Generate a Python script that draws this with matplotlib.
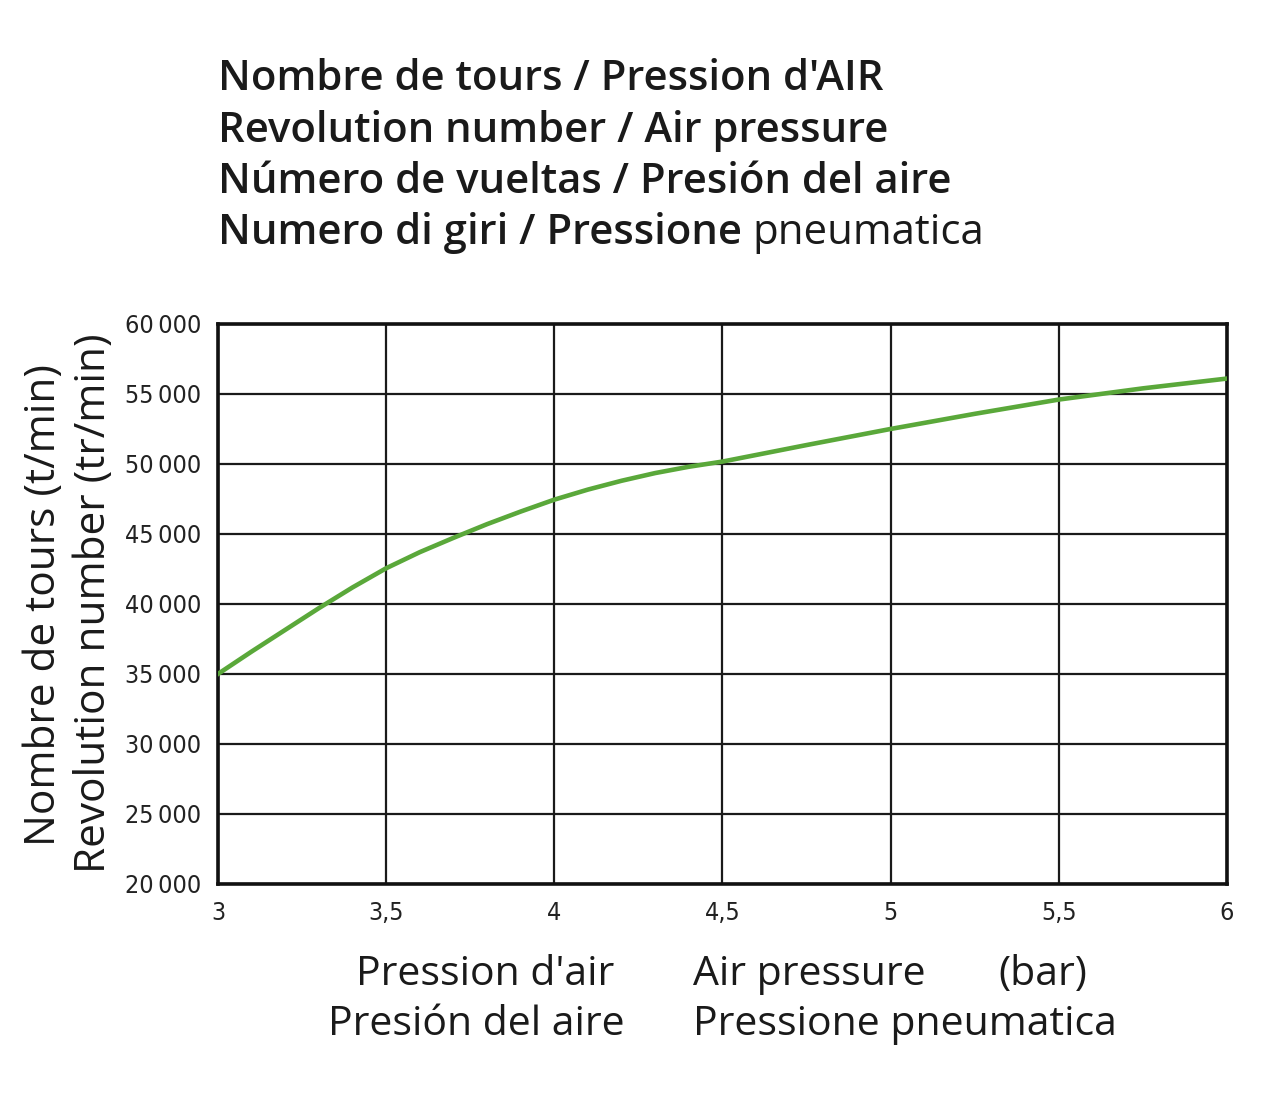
import matplotlib
matplotlib.use('Agg')
import matplotlib.pyplot as plt
from matplotlib.ticker import FixedLocator, FuncFormatter

# Data
pressure_bar = [3.0, 3.1, 3.2, 3.3, 3.4, 3.5, 3.6, 3.7, 3.8, 3.9, 4.0, 4.1, 4.2, 4.3, 4.4, 4.5,
                4.75, 5.0, 5.25, 5.5, 5.75, 6.0]
speed_rpm = [35000, 36600, 38150, 39700, 41180, 42550, 43700, 44720, 45700, 46600, 47450,
             48170, 48800, 49350, 49800, 50170, 51350, 52500, 53580, 54600, 55400, 56100]

x_ticks = [3, 3.5, 4, 4.5, 5, 5.5, 6]
y_ticks = [20000, 25000, 30000, 35000, 40000, 45000, 50000, 55000, 60000]

title_lines = ["Nombre de tours / Pression d'AIR",
               "Revolution number / Air pressure",
               "Número de vueltas / Presión del aire"]
title_last_bold = "Numero di giri / Pressione "
title_last_regular = "pneumatica"
ylabel_lines = ["Nombre de tours (t/min)", "Revolution number (tr/min)"]

TITLE_FONT = 'Open Sans'
LINE_GREEN = '#5aa83a'
INK = '#1a1a1a'

fig = plt.figure(figsize=(12.8, 11), dpi=100)
ax = fig.add_axes([0.1703, 0.1964, 0.7883, 0.5091])

ax.plot(pressure_bar, speed_rpm, color=LINE_GREEN, lw=3.3, solid_joinstyle='round', zorder=3)

ax.set_xlim(3, 6)
ax.set_ylim(20000, 60000)
ax.xaxis.set_major_locator(FixedLocator(x_ticks))
ax.yaxis.set_major_locator(FixedLocator(y_ticks))
ax.xaxis.set_major_formatter(FuncFormatter(lambda v, p: ('%g' % v).replace('.', ',')))
ax.yaxis.set_major_formatter(FuncFormatter(lambda v, p: '{:,}'.format(int(v)).replace(',', '\u2009')))
ax.grid(True, color=INK, lw=1.6, zorder=1)
ax.tick_params(axis='y', length=0, pad=12)
ax.tick_params(axis='x', length=0, pad=12)
for lab in ax.get_xticklabels() + ax.get_yticklabels():
    lab.set_family('DejaVu Sans')
    lab.set_stretch('condensed')
    lab.set_fontsize(18)
    lab.set_color('#222222')
for s in ax.spines.values():
    s.set_linewidth(2.6)
    s.set_color('#111111')

# Title block, top left
tx = 218 / 1280
base_y = [90, 142, 193]
for line, by in zip(title_lines, base_y):
    fig.text(tx, 1 - by / 1100, line, fontsize=30.2, fontweight='semibold',
             family=TITLE_FONT, color=INK, va='baseline', ha='left')
t_bold = fig.text(tx, 1 - 244 / 1100, title_last_bold, fontsize=30.2, fontweight='semibold',
                  family=TITLE_FONT, color=INK, va='baseline', ha='left')
fig.canvas.draw()
bb = t_bold.get_window_extent()
fig.text(bb.x1 / fig.bbox.width, 1 - 244 / 1100, title_last_regular, fontsize=30.2,
         family=TITLE_FONT, color=INK, va='baseline', ha='left')

# Y axis label (two rotated lines)
fig.text(44 / 1280, 1 - 605 / 1100, ylabel_lines[0], rotation=90, fontsize=30.5,
         family=TITLE_FONT, color=INK, ha='center', va='center')
fig.text(94 / 1280, 1 - 603 / 1100, ylabel_lines[1], rotation=90, fontsize=30.5,
         family=TITLE_FONT, color=INK, ha='center', va='center')

# X axis label block
fig.text(485 / 1280, 1 - 985 / 1100, "Pression d'air", fontsize=29.5, family=TITLE_FONT,
         color=INK, ha='center', va='baseline')
fig.text(476 / 1280, 1 - 1035 / 1100, "Presión del aire", fontsize=29.5, family=TITLE_FONT,
         color=INK, ha='center', va='baseline')
fig.text(693 / 1280, 1 - 985 / 1100, "Air pressure", fontsize=29.5, family=TITLE_FONT,
         color=INK, ha='left', va='baseline')
fig.text(693 / 1280, 1 - 1035 / 1100, "Pressione pneumatica", fontsize=29.5, family=TITLE_FONT,
         color=INK, ha='left', va='baseline')
fig.text(998 / 1280, 1 - 985 / 1100, "(bar)", fontsize=29.5, family=TITLE_FONT,
         color=INK, ha='left', va='baseline')

fig.savefig('out.png', dpi=100, facecolor='white')
